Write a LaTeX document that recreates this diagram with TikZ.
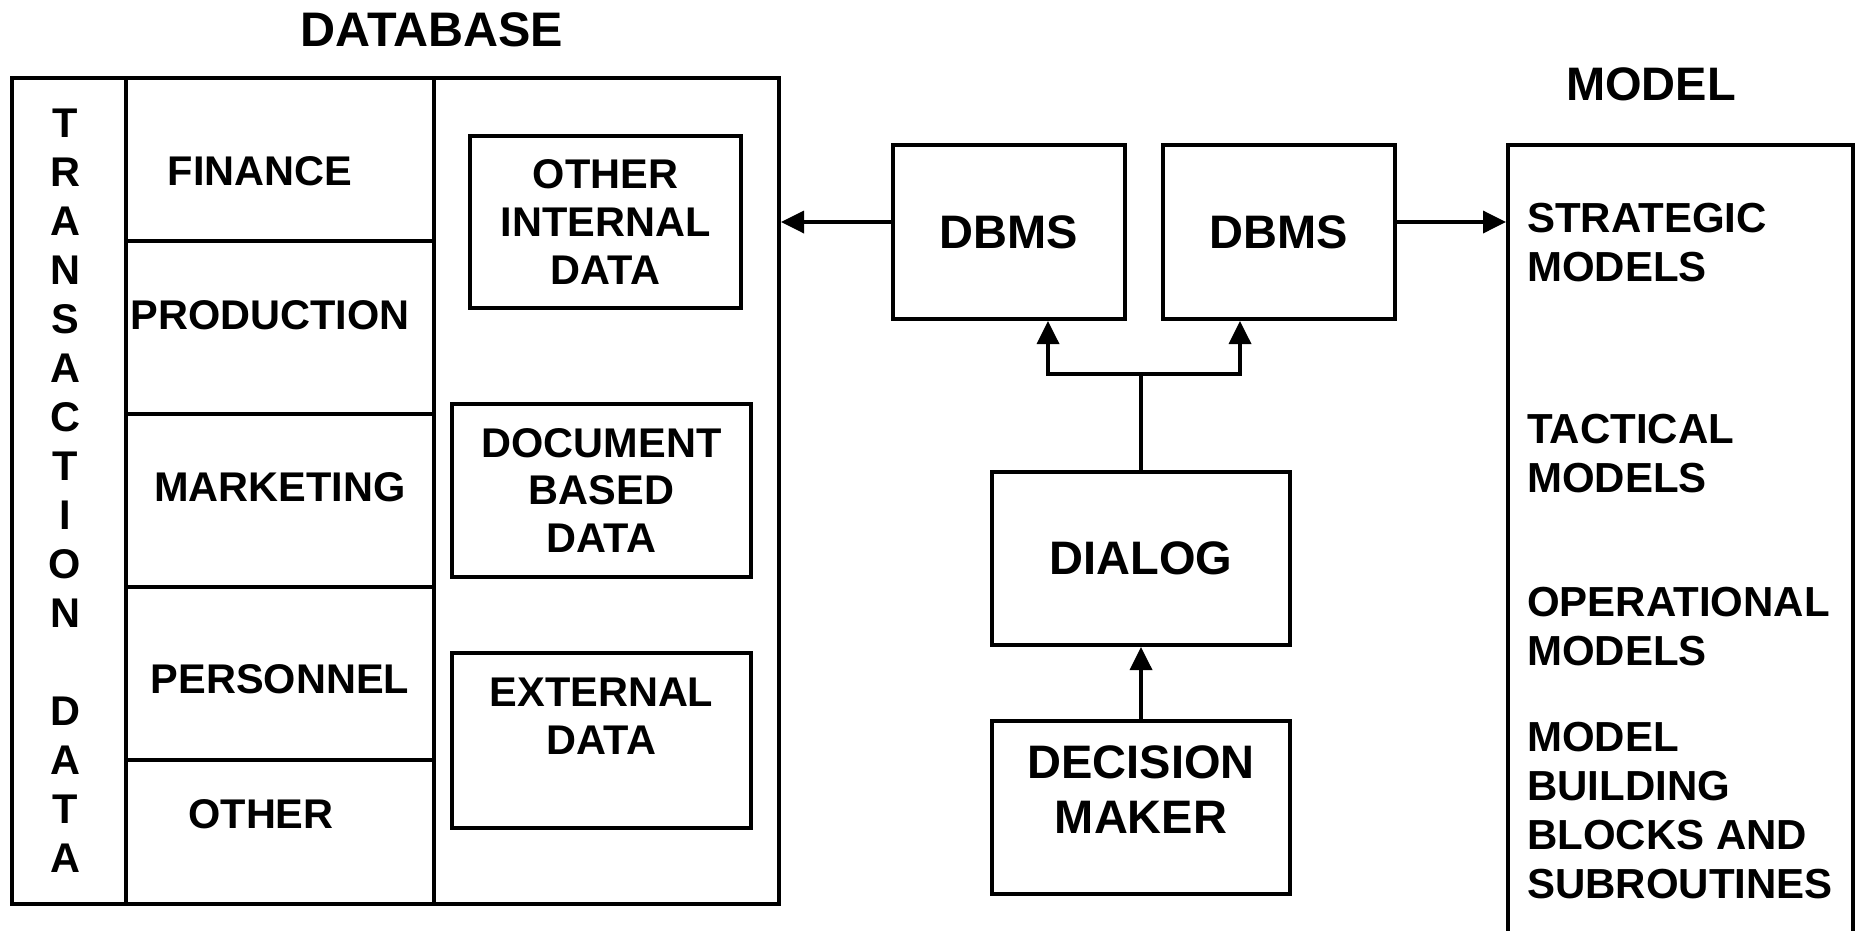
\documentclass[tikz,border=0pt]{standalone}
\usepackage{fontspec}
\setmainfont{Liberation Sans}
\usetikzlibrary{arrows.meta}

\begin{document}
\begin{tikzpicture}[x=1pt, y=-1pt,
    box/.style={draw, line width=4pt, inner sep=0pt},
    lbl/.style={font=\fontsize{41.5}{48}\selectfont\bfseries, align=center, inner sep=0pt},
    big/.style={font=\fontsize{47}{55}\selectfont\bfseries, align=center, inner sep=0pt},
    mdl/.style={font=\fontsize{42}{49}\selectfont\bfseries, align=left, anchor=west, inner sep=0pt},
    link/.style={line width=3.6pt, -{Triangle[length=23pt, width=22pt]}}]
  \clip (0,0) rectangle (1863,930);
  \node (database) at (432,30) [big, font=\fontsize{48.5}{55}\selectfont\bfseries] {DATABASE};
  \node (db) at (395.5,491) [box, minimum width=767pt, minimum height=826pt] {};
  \draw[line width=4pt] (126,78) -- (126,904) (434,78) -- (434,904);
  \foreach \y in {241,414,587,760}
    \draw[line width=4pt] (126,\y) -- (434,\y);
  \node (transaction) at (65,490.5) [lbl, font=\fontsize{41.5}{49}\selectfont\bfseries] {T\\R\\A\\N\\S\\A\\C\\T\\I\\O\\N\\[49pt]D\\A\\T\\A};
  \node (finance) at (260,171) [lbl] {FINANCE};
  \node (production) at (270,315) [lbl] {PRODUCTION};
  \node (marketing) at (280,487) [lbl] {MARKETING};
  \node (personnel) at (280,679) [lbl] {PERSONNEL};
  \node (other) at (261,814) [lbl] {OTHER};
  \node (internal) at (605.5,222) [box, lbl, minimum width=271pt, minimum height=172pt] {OTHER\\INTERNAL\\DATA};
  \node (document) at (601.5,490.5) [box, lbl, minimum width=299pt, minimum height=173pt] {DOCUMENT\\BASED\\DATA};
  \node (external) at (601.5,740.5) [box, minimum width=299pt, minimum height=175pt] {};
  \node (externaltext) at (601.5,716) [lbl] {EXTERNAL\\DATA};
  \node (dbmsL) at (1009,232) [box, big, minimum width=232pt, minimum height=174pt] {DBMS};
  \node (dbmsR) at (1279,232) [box, big, minimum width=232pt, minimum height=174pt] {DBMS};
  \node (dialog) at (1141,558.5) [box, big, minimum width=298pt, minimum height=173pt] {DIALOG};
  \node (maker) at (1141,807.5) [box, minimum width=298pt, minimum height=173pt] {};
  \node (makertext) at (1141,789.5) [big] {DECISION\\MAKER};
  \node (modeltitle) at (1651,84) [big] {MODEL};
  \node (model) at (1680.5,600) [box, minimum width=345pt, minimum height=910pt] {};
  \node (strategic) at (1527,243) [mdl] {STRATEGIC\\MODELS};
  \node (tactical) at (1527,454) [mdl] {TACTICAL\\MODELS};
  \node (operational) at (1527,627) [mdl] {OPERATIONAL\\MODELS};
  \node (blocks) at (1527,811) [mdl] {MODEL\\BUILDING\\BLOCKS AND\\SUBROUTINES};
  \coordinate (split) at ([yshift=96pt]dialog.north);
  \draw[link] ([yshift=10pt]dbmsL.west) -- ([yshift=10pt]dbmsL.west -| db.east);
  \draw[link] ([yshift=10pt]dbmsR.east) -- ([yshift=10pt]dbmsR.east -| model.west);
  \draw[link] (maker.north) -- (dialog.south);
  \draw[line width=3.6pt] (dialog.north) -- (split);
  \foreach \dest/\dx in {dbmsL/39, dbmsR/-39}
    \draw[link] (split) -| ([xshift=\dx pt]\dest.south);
\end{tikzpicture}
\end{document}
